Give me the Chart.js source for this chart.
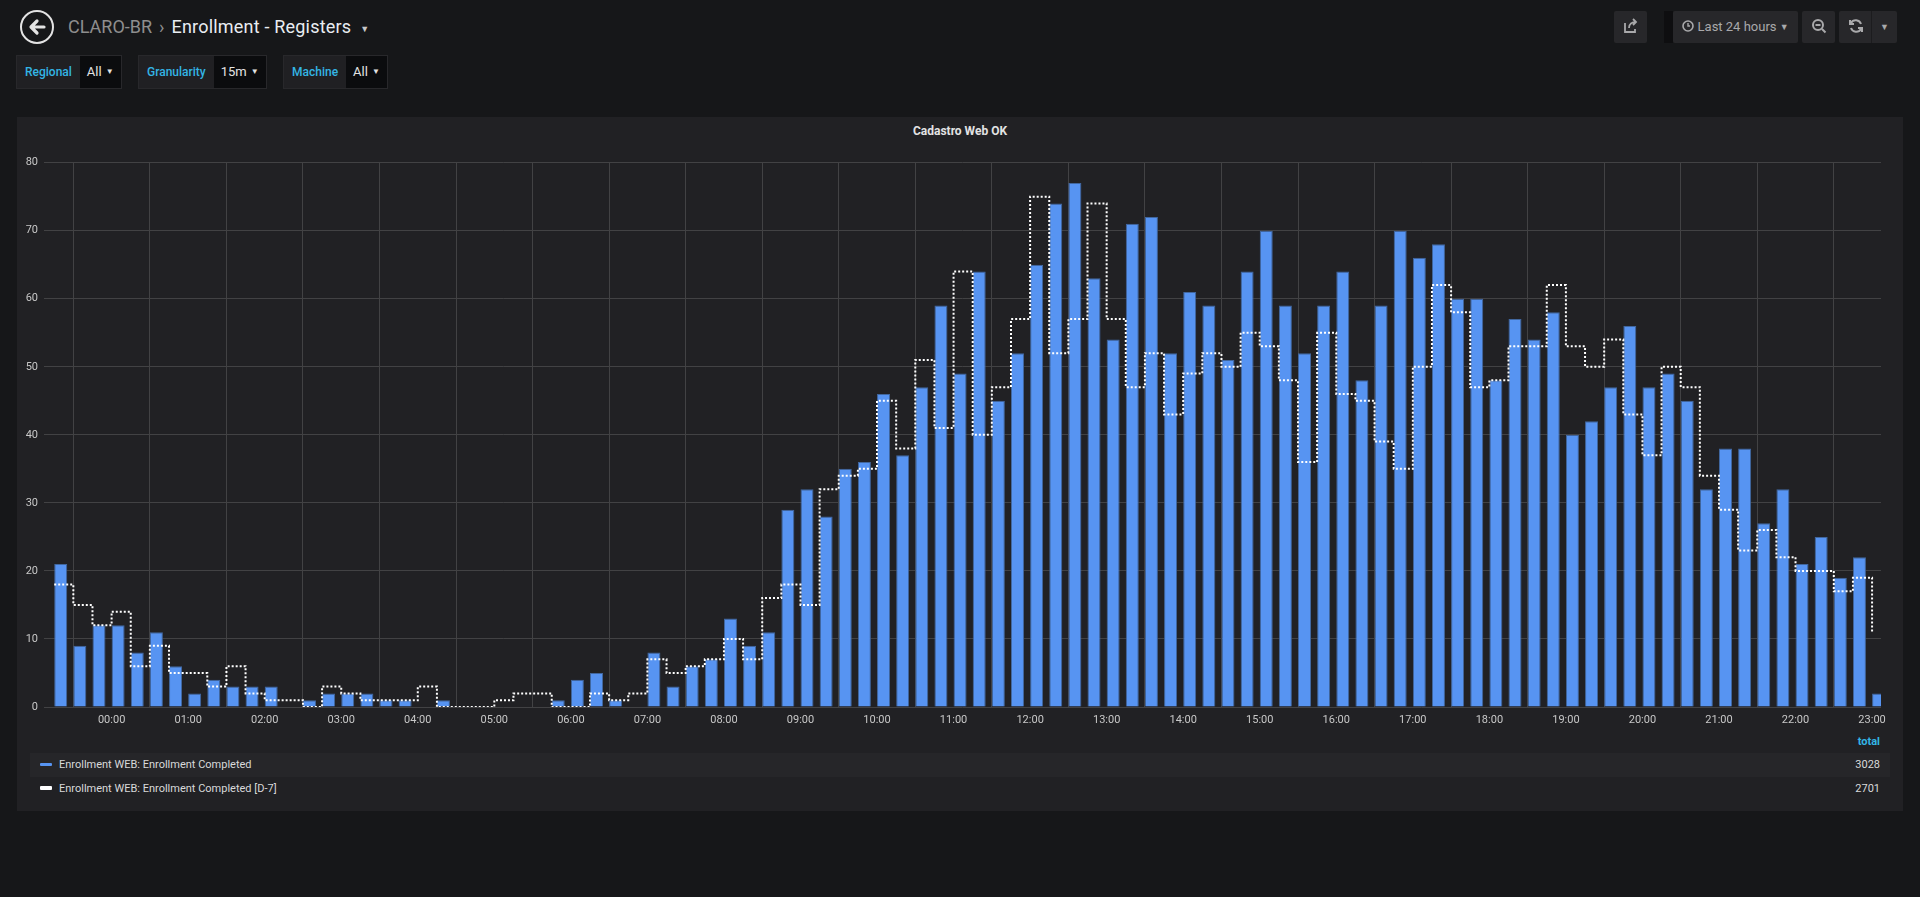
<!DOCTYPE html>
<html>
<head>
<meta charset="utf-8">
<title>Enrollment - Registers</title>
<script src="https://cdn.jsdelivr.net/npm/chart.js@4/dist/chart.umd.min.js"></script>
<style>
  html, body { margin: 0; padding: 0; }
  body {
    width: 1920px; height: 897px; overflow: hidden; position: relative;
    background: #161719; color: #d8d9da;
    font-family: Roboto, "Open Sans", sans-serif;
  }
  .abs { position: absolute; }
  .back {
    left: 20px; top: 10px; width: 30px; height: 30px;
    border: 2px solid #e3e3e3; border-radius: 50%;
  }
  .crumb { left: 68px; top: 16px; font-size: 18px; line-height: 22px; white-space: nowrap; }
  .crumb .grey { color: #8e8e8e; }
  .crumb .sep { color: #8e8e8e; margin: 0 7px; }
  .crumb .title { color: #e9edf2; letter-spacing: 0.2px; }
  .crumb .caret { color: #c8c8c8; font-size: 9px; margin-left: 9px; vertical-align: 1px; }
  .var { top: 55px; height: 34px; display: flex; font-size: 12px; }
  .var .lbl {
    background: #202023; border: 1px solid #28282b; border-right: none;
    color: #33b5e5; font-weight: 500; padding: 0 8px; line-height: 32px;
  }
  .var .val {
    background: #0b0c0e; border: 1px solid #28282b; border-left: none;
    color: #e3e3e3; padding: 0 7px; line-height: 32px; font-size: 13px;
  }
  .var .val span { font-size: 8px; margin-left: 4px; vertical-align: 2px; }
  .btn {
    top: 11px; height: 32px; background: #27272a; border-radius: 2px;
    color: #a9a9ab; font-size: 13px; line-height: 32px; text-align: center;
  }
  .panel { left: 17px; top: 117px; width: 1886px; height: 694px; background: #212124; }
  .ptitle { left: 17px; top: 124px; width: 1886px; text-align: center; font-size: 12px; font-weight: 700; color: #e3e3e3; line-height: 14px; }
  .chartbox { left: 17px; top: 150px; width: 1886px; height: 585px; }
  .lhead { right: 40px; top: 735px; font-size: 11px; font-weight: 700; color: #33b5e5; line-height: 14px; }
  .lrow { left: 30px; width: 1860px; height: 24px; font-size: 11px; line-height: 24px; color: #d8d9da; }
  .lrow.alt { background: #262629; }
  .lrow .mk { position: absolute; left: 10px; top: 10px; width: 12px; height: 3px; border-radius: 1px; }
  .lrow .nm { position: absolute; left: 29px; }
  .lrow .tot { position: absolute; right: 10px; }
</style>
</head>
<body>

<div class="abs back">
  <svg width="30" height="30" viewBox="0 0 30 30"><path d="M22 15H10 M15 9l-6 6 6 6" stroke="#e3e3e3" stroke-width="3.2" fill="none" stroke-linecap="round" stroke-linejoin="round"/></svg>
</div>
<div class="abs crumb"><span class="grey">CLARO-BR</span><span class="sep">&#8250;</span><span class="title">Enrollment - Registers</span><span class="caret">&#9660;</span></div>

<div class="abs var" style="left:16px"><div class="lbl">Regional</div><div class="val">All<span>&#9660;</span></div></div>
<div class="abs var" style="left:138px"><div class="lbl">Granularity</div><div class="val">15m<span>&#9660;</span></div></div>
<div class="abs var" style="left:283px"><div class="lbl">Machine</div><div class="val">All<span>&#9660;</span></div></div>

<div class="abs btn" style="left:1614px;width:33px">
  <svg width="16" height="16" viewBox="0 0 16 16" style="vertical-align:-3px"><path d="M2 5v9h10v-3 M6 10c0-4 3-6 7-6 M10 1l3 3-3 3" stroke="#a9a9ab" stroke-width="1.8" fill="none"/></svg>
</div>
<div class="abs" style="left:1664px;top:11px;width:9px;height:32px;background:#0e0e10"></div>
<div class="abs btn" style="left:1673px;width:125px">
  <svg width="12" height="12" viewBox="0 0 12 12" style="vertical-align:-1px"><circle cx="6" cy="6" r="5" stroke="#a9a9ab" stroke-width="1.6" fill="none"/><path d="M6 3v3h2" stroke="#a9a9ab" stroke-width="1.4" fill="none"/></svg>
  Last 24 hours <span style="font-size:9px;vertical-align:1px">&#9660;</span>
</div>
<div class="abs btn" style="left:1802px;width:33px">
  <svg width="16" height="16" viewBox="0 0 16 16" style="vertical-align:-3px"><circle cx="7" cy="7" r="5" stroke="#a9a9ab" stroke-width="2" fill="none"/><path d="M4.5 7h5 M11 11l3.5 3.5" stroke="#a9a9ab" stroke-width="2" fill="none"/></svg>
</div>
<div class="abs btn" style="left:1839px;width:58px;text-align:left">
  <svg width="16" height="16" viewBox="0 0 16 16" style="vertical-align:-3px;margin-left:9px"><path d="M13 6a5.5 5.5 0 0 0-10-1 M3 10a5.5 5.5 0 0 0 10 1 M2 2v4h4 M14 14v-4h-4" stroke="#a9a9ab" stroke-width="2" fill="none"/></svg>
  <span style="position:absolute;left:32px;top:0;width:1px;height:32px;background:#1c1c1e"></span>
  <span style="position:absolute;left:41px;font-size:9px">&#9660;</span>
</div>

<div class="abs panel"></div>
<div class="abs ptitle">Cadastro Web OK</div>
<div class="abs chartbox"><canvas id="chart"></canvas></div>

<div class="abs lhead">total</div>
<div class="abs lrow alt" style="top:753px"><div class="mk" style="background:#5794f2"></div><div class="nm" id="name0"></div><div class="tot" id="tot0"></div></div>
<div class="abs lrow" style="top:777px"><div class="mk" style="background:#ffffff;height:4px;top:9px"></div><div class="nm" id="name1"></div><div class="tot" id="tot1"></div></div>

<script>
// Intervalos de 15 minutos (as três primeiras são do dia anterior)
const TIMES = [
  '23:15', '23:30', '23:45',
  '00:00', '00:15', '00:30', '00:45', '01:00', '01:15', '01:30', '01:45',
  '02:00', '02:15', '02:30', '02:45', '03:00', '03:15', '03:30', '03:45',
  '04:00', '04:15', '04:30', '04:45', '05:00', '05:15', '05:30', '05:45',
  '06:00', '06:15', '06:30', '06:45', '07:00', '07:15', '07:30', '07:45',
  '08:00', '08:15', '08:30', '08:45', '09:00', '09:15', '09:30', '09:45',
  '10:00', '10:15', '10:30', '10:45', '11:00', '11:15', '11:30', '11:45',
  '12:00', '12:15', '12:30', '12:45', '13:00', '13:15', '13:30', '13:45',
  '14:00', '14:15', '14:30', '14:45', '15:00', '15:15', '15:30', '15:45',
  '16:00', '16:15', '16:30', '16:45', '17:00', '17:15', '17:30', '17:45',
  '18:00', '18:15', '18:30', '18:45', '19:00', '19:15', '19:30', '19:45',
  '20:00', '20:15', '20:30', '20:45', '21:00', '21:15', '21:30', '21:45',
  '22:00', '22:15', '22:30', '22:45', '23:00'
];

const SERIES_NAMES = [
  'Enrollment WEB: Enrollment Completed',
  'Enrollment WEB: Enrollment Completed [D-7]'
];

// Enrollment Completed (hoje)
const COMPLETED = [
  21, 9, 12,
  12, 8, 11, 6, 2, 4, 3, 3,
  3, 0, 1, 2, 2, 2, 1, 1,
  0, 1, 0, 0, 0, 0, 0, 1,
  4, 5, 1, 0, 8, 3, 6, 7,
  13, 9, 11, 29, 32, 28, 35, 36,
  46, 37, 47, 59, 49, 64, 45, 52,
  65, 74, 77, 63, 54, 71, 72, 52,
  61, 59, 51, 64, 70, 59, 52, 59,
  64, 48, 59, 70, 66, 68, 60, 60,
  48, 57, 54, 58, 40, 42, 47, 56,
  47, 49, 45, 32, 38, 38, 27, 32,
  21, 25, 19, 22, 2
];

// Enrollment Completed [D-7] (semana anterior)
const COMPLETED_D7 = [
  18, 15, 12,
  14, 6, 9, 5, 5, 3, 6, 2,
  1, 1, 0, 3, 2, 1, 1, 1,
  3, 0, 0, 0, 1, 2, 2, 0,
  0, 2, 1, 2, 7, 5, 6, 7,
  10, 7, 16, 18, 15, 32, 34, 35,
  45, 38, 51, 41, 64, 40, 47, 57,
  75, 52, 57, 74, 57, 47, 52, 43,
  49, 52, 50, 55, 53, 48, 36, 55,
  46, 45, 39, 35, 50, 62, 58, 47,
  48, 53, 53, 62, 53, 50, 54, 43,
  37, 50, 47, 34, 29, 23, 26, 22,
  20, 20, 17, 19, 11
];

const Y_TICKS = [0, 10, 20, 30, 40, 50, 60, 70, 80];
const RANGE_FROM = '23:07';   // "Last 24 hours"
const RANGE_TO = '23:07';
const BAR_FILL = 0.68;        // fracao do intervalo ocupada pela barra

// Converter HH:MM em minutos, com o dia anterior negativo
function toMinutes(t) {
  const [h, m] = t.split(':').map(Number);
  return h * 60 + m;
}
const slotMinutes = [];
let dayOffset = -1440;
TIMES.forEach((t, i) => {
  let m = toMinutes(t);
  if (i > 0 && m + dayOffset < slotMinutes[i - 1]) dayOffset += 1440;
  slotMinutes.push(m + dayOffset);
});
const STEP = slotMinutes[1] - slotMinutes[0];
const xMin = toMinutes(RANGE_FROM) - 1440;
const xMax = toMinutes(RANGE_TO);
// Marcas do eixo x: horas cheias
const hourTicks = slotMinutes.filter(m => m >= 0 && m % 60 === 0);

function formatHour(v) {
  const m = ((v % 1440) + 1440) % 1440;
  const h = Math.floor(m / 60), mm = m % 60;
  return String(h).padStart(2, '0') + ':' + String(mm).padStart(2, '0');
}

// Barras alinhadas ao inicio do intervalo (como no Grafana)
const barData = COMPLETED.map((v, i) => ({ x: slotMinutes[i] + STEP * BAR_FILL / 2, y: v }));
const lineData = COMPLETED_D7.map((v, i) => ({ x: slotMinutes[i], y: v }));

// Legenda com totais
const sum = arr => arr.reduce((a, b) => a + b, 0);
document.getElementById('name0').textContent = SERIES_NAMES[0];
document.getElementById('name1').textContent = SERIES_NAMES[1];
document.getElementById('tot0').textContent = sum(COMPLETED);
document.getElementById('tot1').textContent = sum(COMPLETED_D7);

const ctx = document.getElementById('chart').getContext('2d');
new Chart(ctx, {
  type: 'bar',
  data: {
    datasets: [
      {
        type: 'line',
        label: SERIES_NAMES[1],
        data: lineData,
        borderColor: '#ffffff',
        borderWidth: 2,
        borderDash: [2, 2],
        stepped: true,
        pointRadius: 0,
        fill: false,
        order: 0
      },
      {
        type: 'bar',
        label: SERIES_NAMES[0],
        data: barData,
        backgroundColor: '#5794f2',
        borderColor: '#41679f',
        borderWidth: { top: 1, left: 1, right: 1, bottom: 0 },
        barPercentage: BAR_FILL,
        categoryPercentage: 1,
        order: 1
      }
    ]
  },
  options: {
    responsive: true,
    maintainAspectRatio: false,
    animation: false,
    layout: { padding: { top: 12, right: 22, left: 0, bottom: 0 } },
    scales: {
      x: {
        type: 'linear',
        min: xMin,
        max: xMax,
        offset: false,
        afterBuildTicks: scale => { scale.ticks = hourTicks.map(v => ({ value: v })); },
        afterFit: scale => { scale.height = 28; },
        border: { display: false },
        grid: { color: '#424244', drawTicks: false, lineWidth: 1 },
        ticks: {
          autoSkip: false,
          maxRotation: 0,
          padding: 7,
          color: '#c8c8c8',
          font: { family: 'Roboto', size: 11 },
          callback: v => formatHour(v)
        }
      },
      y: {
        min: Y_TICKS[0],
        max: Y_TICKS[Y_TICKS.length - 1],
        afterFit: scale => { scale.width = 27; },
        border: { display: false },
        grid: { color: '#424244', drawTicks: false, lineWidth: 1 },
        ticks: {
          stepSize: Y_TICKS[1] - Y_TICKS[0],
          padding: 6,
          color: '#c8c8c8',
          font: { family: 'Roboto', size: 11 }
        }
      }
    },
    plugins: {
      legend: { display: false },
      tooltip: { enabled: false }
    }
  }
});
</script>
</body>
</html>
